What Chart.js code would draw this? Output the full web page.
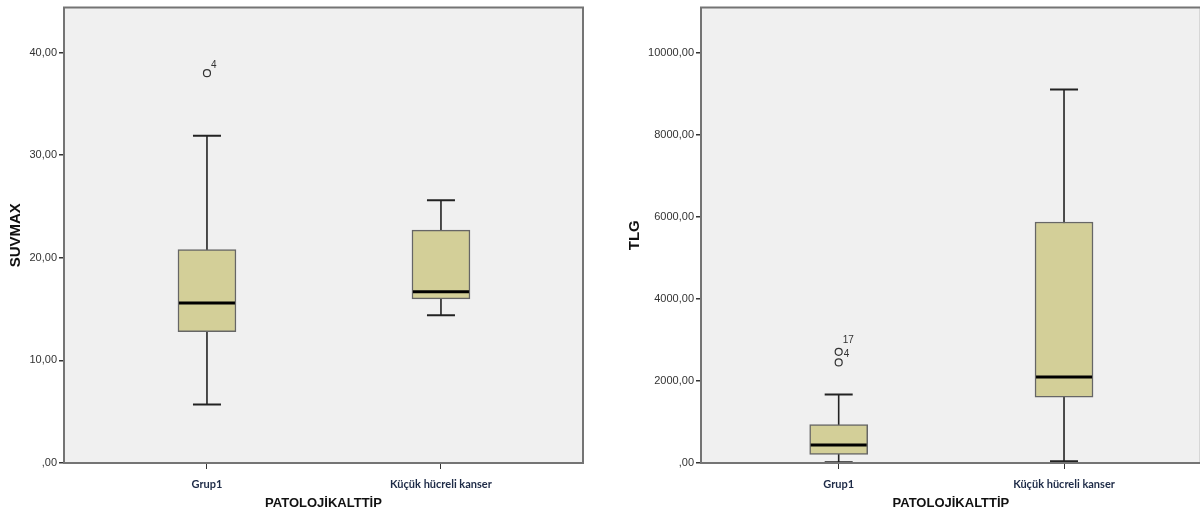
<!DOCTYPE html>
<html>
<head>
<meta charset="utf-8">
<script src="https://cdn.jsdelivr.net/npm/chart.js@4.4.1/dist/chart.umd.min.js"></script>
<style>
  html, body { margin: 0; padding: 0; background: #fff; overflow: hidden; }
  #wrap { position: relative; width: 1200px; height: 516px; overflow: hidden; }
  #leftChart { position: absolute; left: 0; top: 0; }
  #rightChart { position: absolute; left: 600px; top: 0; }
</style>
</head>
<body>
<div id="wrap">
  <canvas id="leftChart" width="600" height="516"></canvas>
  <canvas id="rightChart" width="606" height="516"></canvas>
</div>
<script>
const categories = ['Grup1', 'Küçük hücreli kanser'];
const xTitle = 'PATOLOJİKALTTİP';

// SUVMAX
const suvLow = [5.7, 14.4];
const suvQ1 = [12.8, 16.0];
const suvMedian = [15.6, 16.7];
const suvQ3 = [20.8, 22.7];
const suvHigh = [31.9, 25.6];
const suvOutlierCat = [0];
const suvOutlierVal = [38.0];
const suvOutlierLabel = ['4'];
const suvTicks = [0, 10, 20, 30, 40];

// TLG
const tlgLow = [17, 41];
const tlgQ1 = [211, 1604];
const tlgMedian = [437, 2100];
const tlgQ3 = [940, 5881];
const tlgHigh = [1669, 9113];
const tlgOutlierCat = [0, 0];
const tlgOutlierVal = [2714, 2454];
const tlgOutlierLabel = ['4', '17'];
const tlgTicks = [0, 2000, 4000, 6000, 8000, 10000];

const boxFill = '#d3cf98';
const boxLine = '#666';
const inkColor = '#222';

function fmtTick(v) {
    if (v === 0) return ',00';
    return v.toFixed(2).replace('.', ',');
}

const boxPlugin = {
    id: 'boxPlot',
    beforeDraw(chart) {
        const { ctx, chartArea: a } = chart;
        ctx.save();
        ctx.fillStyle = '#f0f0f0';
        ctx.fillRect(a.left, a.top, a.width, a.height);
        ctx.restore();
    },
    beforeDatasetsDraw(chart, args, o) {
        const { ctx } = chart;
        const xs = chart.scales.x, ys = chart.scales.y;
        ctx.save();
        ctx.strokeStyle = inkColor;
        o.low.forEach((lo, i) => {
            const x = xs.getPixelForValue(i);
            const yLo = ys.getPixelForValue(lo);
            const yHi = ys.getPixelForValue(o.high[i]);
            ctx.lineWidth = 1.6;
            ctx.beginPath();
            ctx.moveTo(x, yLo); ctx.lineTo(x, yHi);
            ctx.stroke();
            ctx.lineWidth = 2;
            ctx.beginPath();
            ctx.moveTo(x - 14, yLo); ctx.lineTo(x + 14, yLo);
            ctx.moveTo(x - 14, yHi); ctx.lineTo(x + 14, yHi);
            ctx.stroke();
        });
        ctx.restore();
    },
    afterDatasetsDraw(chart, args, o) {
        const { ctx, chartArea: a } = chart;
        const xs = chart.scales.x, ys = chart.scales.y;
        ctx.save();
        // medians
        ctx.strokeStyle = '#000';
        ctx.lineWidth = 3;
        o.median.forEach((m, i) => {
            const x = xs.getPixelForValue(i);
            const y = ys.getPixelForValue(m);
            ctx.beginPath();
            ctx.moveTo(x - 28, y); ctx.lineTo(x + 28, y);
            ctx.stroke();
        });
        // outlier labels
        ctx.fillStyle = '#333';
        ctx.font = '10px "Liberation Sans", Arial, sans-serif';
        ctx.textBaseline = 'middle';
        ctx.textAlign = 'left';
        o.outCat.forEach((c, i) => {
            const x = xs.getPixelForValue(c);
            const y = ys.getPixelForValue(o.outVal[i]);
            const off = o.labelOffsets[i];
            ctx.fillText(o.outLabel[i], x + off[0], y + off[1]);
        });
        // frame
        ctx.strokeStyle = '#747474';
        ctx.lineWidth = 2;
        ctx.strokeRect(a.left, a.top, a.width, a.height);
        ctx.restore();
    }
};

function makeChart(id, s) {
    const ctx = document.getElementById(id).getContext('2d');
    return new Chart(ctx, {
        type: 'bar',
        data: {
            datasets: [
                {
                    data: s.q1.map((q, i) => ({ x: i, y: [q, s.q3[i]] })),
                    backgroundColor: boxFill,
                    borderColor: boxLine,
                    borderWidth: 1.5,
                    borderSkipped: false,
                    barThickness: 58,
                    order: 2
                },
                {
                    type: 'scatter',
                    data: s.outCat.map((c, i) => ({ x: c, y: s.outVal[i] })),
                    pointStyle: 'circle',
                    pointRadius: 3.5,
                    pointBorderWidth: 1.2,
                    pointBorderColor: '#333',
                    pointBackgroundColor: 'rgba(0,0,0,0)',
                    order: 1
                }
            ]
        },
        options: {
            responsive: false,
            animation: false,
            layout: { padding: { top: 6, right: s.padRight, left: 0, bottom: 0 } },
            plugins: {
                legend: { display: false },
                tooltip: { enabled: false },
                boxPlot: {
                    low: s.low, high: s.high, median: s.median,
                    outCat: s.outCat, outVal: s.outVal, outLabel: s.outLabel,
                    labelOffsets: s.labelOffsets
                }
            },
            scales: {
                x: {
                    type: 'linear',
                    min: -0.611,
                    max: 1.607,
                    offset: false,
                    afterBuildTicks: sc => { sc.ticks = categories.map((c, i) => ({ value: i })); },
                    afterFit: sc => { sc.height = 53; },
                    grid: { offset: false, drawOnChartArea: false, drawTicks: true, tickLength: 6, color: '#333', lineWidth: 1 },
                    border: { display: false },
                    ticks: {
                        padding: 9,
                        color: '#1e2b47',
                        font: { family: 'Lato, "Open Sans", sans-serif', size: 11, weight: 'bold' },
                        callback: v => categories[v]
                    },
                    title: {
                        display: true,
                        text: xTitle,
                        color: '#111',
                        font: { family: '"Liberation Sans", Arial, sans-serif', size: 13, weight: 'bold' },
                        padding: { top: 0, bottom: 5 }
                    }
                },
                y: {
                    min: 0,
                    max: s.yMax,
                    afterBuildTicks: sc => { sc.ticks = s.ticks.map(v => ({ value: v })); },
                    afterFit: sc => { sc.width = s.yWidth; },
                    grid: { drawOnChartArea: false, drawTicks: true, tickLength: 5, color: '#333', lineWidth: 1.5 },
                    border: { display: false },
                    ticks: {
                        padding: 2,
                        color: '#333',
                        font: { family: '"Liberation Sans", Arial, sans-serif', size: 11, lineHeight: 1 },
                        callback: v => fmtTick(v)
                    },
                    title: {
                        display: true,
                        text: s.yTitle,
                        color: '#111',
                        font: { family: '"Liberation Sans", Arial, sans-serif', size: 15, weight: 'bold' },
                        padding: { top: s.titlePad, bottom: 0 }
                    }
                }
            }
        },
        plugins: [boxPlugin]
    });
}

makeChart('leftChart', {
    low: suvLow, q1: suvQ1, median: suvMedian, q3: suvQ3, high: suvHigh,
    outCat: suvOutlierCat, outVal: suvOutlierVal, outLabel: suvOutlierLabel,
    labelOffsets: [[4, -8]],
    ticks: suvTicks, yMax: 44.4, yTitle: 'SUVMAX',
    yWidth: 64, titlePad: 7, padRight: 17
});

makeChart('rightChart', {
    low: tlgLow, q1: tlgQ1, median: tlgMedian, q3: tlgQ3, high: tlgHigh,
    outCat: tlgOutlierCat, outVal: tlgOutlierVal, outLabel: tlgOutlierLabel,
    labelOffsets: [[5, 2], [4, -22]],
    ticks: tlgTicks, yMax: 11115, yTitle: 'TLG',
    yWidth: 101, titlePad: 26, padRight: 4
});
</script>
</body>
</html>
